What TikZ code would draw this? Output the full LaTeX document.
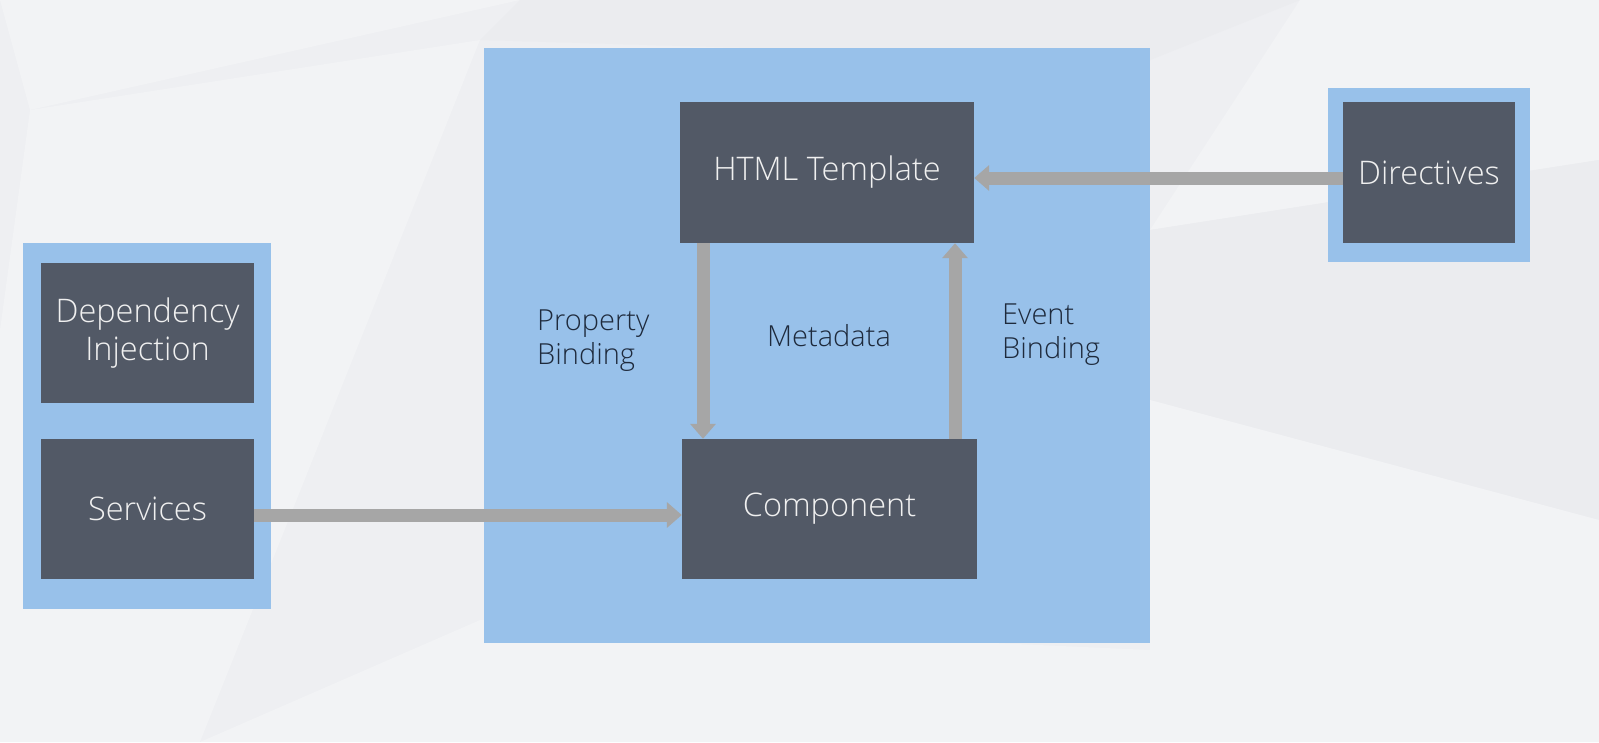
\documentclass[tikz,border=0pt]{standalone}
\usepackage{fontspec}
\IfFontExistsTF{Open Sans Light}{\setmainfont{Open Sans Light}}{\setmainfont{Open Sans}}
\usetikzlibrary{arrows.meta,calc}
\definecolor{bg}{HTML}{EEEFF2}
\definecolor{bglight}{HTML}{F2F3F5}
\definecolor{bgdark}{HTML}{EBECEF}
\definecolor{bluebox}{HTML}{98C1EA}
\definecolor{darkbox}{HTML}{525966}
\definecolor{arrowgray}{HTML}{A6A6A6}
\definecolor{labeltext}{HTML}{1E2A3C}
\tikzset{
  darkrect/.style={fill=darkbox, draw=none, text=white!94!black, font=\fontsize{32.5}{38}\selectfont, align=center, inner sep=0pt},
  bluerect/.style={fill=bluebox, draw=none},
  bigarrow/.style={draw=arrowgray, line width=13pt, -{Triangle[length=15pt,width=25pt]}},
  lbl/.style={text=labeltext, font=\fontsize{29}{34}\selectfont, align=left, inner sep=0pt}
}
\begin{document}
\begin{tikzpicture}[x=1pt,y=-1pt]
\useasboundingbox (0,0) rectangle (1599,742);
% background
\fill[bg] (0,0) rectangle (1599,742);
\fill[bglight] (0,0) -- (520,0) -- (30,110) -- cycle;
\fill[bglight] (30,110) -- (480,40) -- (200,742) -- (0,742) -- (0,330) -- cycle;
\fill[bgdark] (520,0) -- (1300,0) -- (1150,60) -- (480,40) -- cycle;
\fill[bglight] (1300,0) -- (1599,0) -- (1599,160) -- (1150,230) -- cycle;
\fill[bgdark] (1150,230) -- (1599,160) -- (1599,520) -- (1150,400) -- cycle;
\fill[bglight] (1150,400) -- (1599,520) -- (1599,742) -- (1150,742) -- cycle;
\fill[bglight] (200,742) -- (480,620) -- (1150,650) -- (1150,742) -- cycle;
% blue containers
\node[bluerect, minimum width=666pt, minimum height=595pt, inner sep=0pt] (main) at (817,345.5) {};
\node[bluerect, minimum width=202pt, minimum height=174pt, inner sep=0pt] (dirbg) at (1429,175) {};
\node[bluerect, minimum width=248pt, minimum height=366pt, inner sep=0pt] (leftbg) at (147,426) {};
% dark boxes
\node[darkrect, minimum width=294pt, minimum height=141pt] (html) at (827,172.5) {HTML Template};
\node[darkrect, minimum width=295pt, minimum height=140pt] (comp) at (829.5,509) {Component};
\node[darkrect, minimum width=172pt, minimum height=141pt] (dir) at (1429,172.5) {Directives};
\node[darkrect, minimum width=213pt, minimum height=140pt] (di) at (147.5,333) {Dependency\\Injection};
\node[darkrect, minimum width=213pt, minimum height=140pt] (serv) at (147.5,509) {Services};
% arrows
\draw[bigarrow] ([yshift=-5.5pt]dir.west) -- ([yshift=-5.5pt]dir.west -| html.east);
\draw[bigarrow] ([yshift=-6pt]serv.east) -- ([yshift=-6pt]serv.east -| comp.west);
\draw[bigarrow] ([xshift=-124pt]html.south) -- ([xshift=-124pt]html.south |- comp.north);
\draw[bigarrow] ([xshift=125.5pt]comp.north) -- ([xshift=125.5pt]comp.north |- html.south);
% labels
\node[lbl, anchor=west] (pb) at (537,341) {Property\\Binding};
\node[lbl, anchor=center, align=center] (md) at (829,336) {Metadata};
\node[lbl, anchor=west] (eb) at (1002,335) {Event\\Binding};
\end{tikzpicture}
\end{document}
